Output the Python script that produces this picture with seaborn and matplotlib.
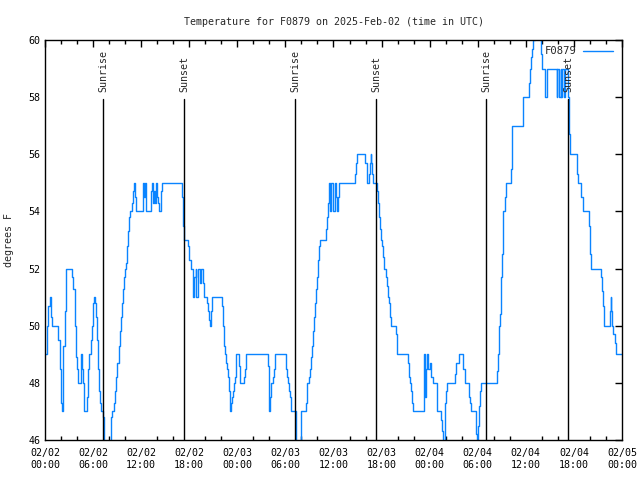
import pandas as pd
import matplotlib
matplotlib.use('Agg')
import matplotlib.pyplot as plt
import matplotlib.dates as mdates
import seaborn as sns

START = pd.Timestamp('2025-02-02 00:00')

# hours since start, temperature in F (step data)
HOURS = [
    0.00, 0.20, 0.37, 0.60, 0.70, 0.79, 0.92, 1.66, 1.83, 1.95, 2.04, 2.12,
    2.20, 2.29, 2.45, 2.58, 2.66, 3.41, 3.54, 3.70, 3.83, 3.95, 4.08, 4.16,
    4.45, 4.53, 4.62, 4.70, 4.83, 4.91, 5.24, 5.37, 5.45, 5.74, 5.82, 5.95,
    6.03, 6.11, 6.20, 6.32, 6.45, 6.57, 6.70, 6.82, 6.95, 7.24, 7.32, 8.19,
    8.36, 8.61, 8.74, 8.86, 9.03, 9.19, 9.36, 9.48, 9.61, 9.73, 9.86, 10.02,
    10.15, 10.27, 10.40, 10.52, 10.65, 10.90, 11.02, 11.11, 11.23, 11.40, 12.19, 12.27,
    12.35, 12.44, 12.56, 13.27, 13.39, 13.48, 13.60, 13.69, 13.81, 13.94, 14.06, 14.18,
    14.48, 14.64, 17.14, 17.26, 17.39, 17.85, 18.01, 18.18, 18.43, 18.51, 18.63, 18.80,
    18.88, 19.05, 19.38, 19.50, 19.67, 19.80, 20.22, 20.38, 20.51, 20.63, 20.71, 20.84,
    22.09, 22.21, 22.29, 22.42, 22.59, 22.71, 22.84, 22.92, 23.04, 23.13, 23.25, 23.33,
    23.46, 23.58, 23.71, 23.79, 23.88, 24.17, 24.29, 24.79, 24.92, 25.04, 27.83, 27.91,
    27.99, 28.08, 28.24, 28.41, 28.53, 28.66, 30.07, 30.20, 30.32, 30.49, 30.61, 30.74,
    31.28, 31.36, 31.90, 31.99, 32.57, 32.65, 32.74, 32.90, 33.07, 33.19, 33.32, 33.40,
    33.53, 33.65, 33.78, 33.90, 34.02, 34.15, 34.27, 35.07, 35.19, 35.31, 35.44, 35.52,
    35.73, 35.94, 36.23, 36.31, 36.48, 36.56, 36.73, 38.72, 38.81, 38.89, 39.97, 40.14,
    40.22, 40.43, 40.56, 40.64, 40.72, 40.85, 40.97, 41.43, 41.55, 41.68, 41.80, 41.93,
    42.05, 42.18, 42.30, 42.59, 42.72, 42.84, 42.97, 43.05, 43.18, 43.76, 43.88, 43.97,
    45.30, 45.42, 45.55, 45.71, 45.84, 45.96, 47.25, 47.34, 47.42, 47.55, 47.65, 47.80,
    48.04, 48.21, 48.46, 48.87, 48.96, 49.46, 49.54, 49.62, 49.90, 49.96, 50.08, 50.21,
    51.20, 51.33, 51.45, 51.62, 52.12, 52.20, 52.37, 52.86, 53.03, 53.15, 53.74, 53.82,
    53.90, 54.07, 54.15, 54.28, 54.40, 56.44, 56.52, 56.61, 56.69, 56.77, 56.86, 56.94,
    57.02, 57.11, 57.19, 57.36, 57.52, 58.15, 58.23, 58.31, 58.44, 59.69, 60.43, 60.52,
    60.64, 60.77, 60.93, 61.14, 61.85, 61.97, 62.39, 62.68, 63.85, 63.95, 64.18, 64.34,
    64.45, 64.55, 64.72, 64.85, 65.22, 65.34, 65.51, 66.42, 66.55, 66.88, 67.09, 67.88,
    67.96, 68.09, 69.34, 69.46, 69.59, 69.71, 70.50, 70.58, 70.67, 70.75, 70.87, 71.12,
    71.25, 71.37, 72.00,
]
TEMP_F = [
    49.0, 50.0, 50.7, 51.0, 50.7, 50.3, 50.0, 49.5, 48.5, 47.7, 47.3, 47.0,
    47.7, 49.3, 50.5, 51.5, 52.0, 51.7, 51.3, 50.0, 48.9, 48.5, 48.2, 48.0,
    48.5, 49.0, 48.5, 48.0, 47.5, 47.0, 47.5, 48.5, 49.0, 49.5, 50.0, 50.5,
    50.8, 51.0, 50.8, 50.3, 49.5, 48.5, 47.7, 47.3, 47.0, 46.8, 45.6, 46.8,
    47.0, 47.3, 47.7, 48.2, 48.7, 49.3, 49.8, 50.3, 50.8, 51.3, 51.7, 52.0,
    52.2, 52.8, 53.3, 53.8, 54.0, 54.3, 54.7, 55.0, 54.5, 54.0, 54.5, 55.0,
    54.5, 55.0, 54.0, 54.7, 55.0, 54.3, 54.7, 54.3, 55.0, 54.5, 54.3, 54.0,
    54.7, 55.0, 54.5, 53.5, 53.0, 52.8, 52.3, 52.0, 51.7, 51.0, 51.7, 52.0,
    51.0, 52.0, 51.5, 52.0, 51.5, 51.0, 50.8, 50.5, 50.2, 50.0, 50.5, 51.0,
    50.7, 50.0, 49.3, 49.0, 48.7, 48.5, 48.2, 47.7, 47.3, 47.0, 47.3, 47.5,
    47.7, 48.0, 48.2, 48.7, 49.0, 48.6, 48.0, 48.2, 48.5, 49.0, 48.6, 47.5,
    47.0, 47.5, 48.0, 48.2, 48.5, 49.0, 48.5, 48.2, 48.0, 47.7, 47.5, 47.0,
    46.8, 45.6, 46.8, 47.0, 47.3, 47.7, 48.0, 48.2, 48.5, 48.9, 49.3, 49.8,
    50.3, 50.8, 51.3, 51.7, 52.3, 52.8, 53.0, 53.4, 53.8, 54.3, 55.0, 54.0,
    55.0, 54.0, 55.0, 54.5, 54.0, 54.5, 55.0, 55.3, 55.7, 56.0, 55.7, 55.3,
    55.0, 55.3, 55.7, 56.0, 55.7, 55.3, 55.0, 54.7, 54.3, 53.8, 53.4, 53.0,
    52.8, 52.4, 52.0, 51.7, 51.4, 51.0, 50.8, 50.3, 50.0, 49.7, 49.3, 49.0,
    48.7, 48.2, 48.0, 47.7, 47.3, 47.0, 48.0, 49.0, 47.5, 48.5, 49.0, 48.5,
    48.7, 48.2, 48.0, 47.4, 47.0, 46.7, 46.3, 45.6, 46.5, 47.3, 47.7, 48.0,
    48.3, 48.7, 48.7, 49.0, 48.7, 48.5, 48.0, 47.5, 47.3, 47.0, 46.5, 46.2,
    45.7, 46.5, 47.2, 47.7, 48.0, 48.4, 49.0, 49.6, 50.0, 50.4, 51.0, 51.7,
    52.5, 53.3, 54.0, 54.5, 55.0, 55.5, 56.5, 57.0, 57.0, 58.0, 58.5, 59.0,
    59.4, 59.7, 60.0, 60.5, 59.5, 59.0, 58.0, 59.0, 58.0, 59.0, 58.0, 59.0,
    58.0, 59.0, 58.0, 59.0, 58.0, 56.7, 56.0, 55.3, 55.0, 54.5, 54.0, 53.5,
    52.5, 52.0, 51.7, 51.2, 50.7, 50.0, 50.5, 51.0, 50.5, 50.0, 49.7, 49.4,
    49.0, 49.0, 49.0,
]

SUNRISE_H = [7.27, 31.24, 55.06]
SUNSET_H = [17.35, 41.34, 65.30]

df = pd.DataFrame({
    'time': START + pd.to_timedelta(HOURS, unit='h'),
    'temp': TEMP_F,
})

sns.set_theme(style='white')
plt.rcParams['font.family'] = ['DejaVu Sans Mono']
plt.rcParams['font.size'] = 7.2

fig = plt.figure(figsize=(6.4, 4.8), dpi=100)
ax = fig.add_axes([45 / 640, 40 / 480, 577 / 640, 400 / 480])

sns.lineplot(data=df, x='time', y='temp', ax=ax, estimator=None, sort=False,
             drawstyle='steps-post', color='#0a84ff', linewidth=1.0, label='F0879')

for hrs, name in [(SUNRISE_H, 'Sunrise'), (SUNSET_H, 'Sunset')]:
    for h in hrs:
        t = START + pd.Timedelta(hours=h)
        ax.axvline(t, ymin=0, ymax=0.852, color='black', linewidth=1)
        ax.text(t, 58.18, name, rotation=90, ha='center', va='bottom', fontsize=7.2)

ax.set_xlim(START, START + pd.Timedelta(hours=72))
ax.set_ylim(46, 60)
ax.set_yticks(range(46, 61, 2))
ax.xaxis.set_major_locator(mdates.HourLocator(byhour=[0, 6, 12, 18]))
ax.xaxis.set_minor_locator(mdates.HourLocator(interval=2))
ax.xaxis.set_major_formatter(mdates.DateFormatter('%m/%d\n%H:%M'))

ax.tick_params(which='both', direction='in', top=True, right=True, colors='black',
               labelsize=7.2)
ax.tick_params(which='major', length=5, width=1)
ax.tick_params(which='minor', length=3, width=1, bottom=True, top=True)
ax.tick_params(axis='x', pad=6)
for s in ax.spines.values():
    s.set_color('black')
    s.set_linewidth(1)

ax.set_xlabel('')
ax.set_ylabel('degrees F', fontsize=7.2, labelpad=10)
ax.set_title('Temperature for F0879 on 2025-Feb-02 (time in UTC)',
             fontsize=7.2, pad=11)

ax.legend(loc='upper right', bbox_to_anchor=(0.995, 1.0), frameon=False,
          markerfirst=False, handlelength=2.8, handletextpad=0.6,
          fontsize=7.6, borderaxespad=0.2)

fig.savefig('out.png', dpi=100)
